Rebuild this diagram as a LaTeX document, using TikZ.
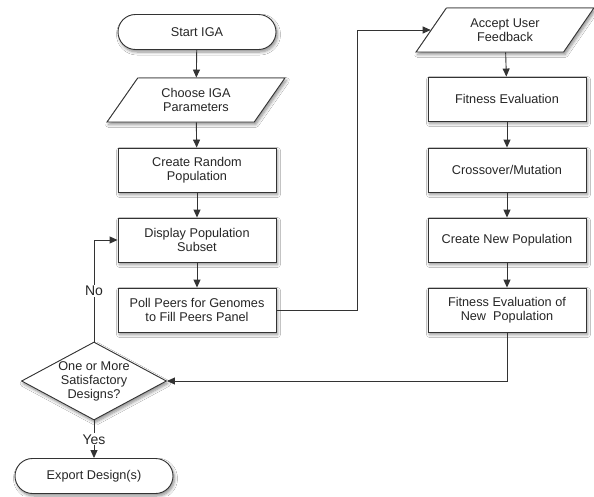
\documentclass[tikz,border=0pt]{standalone}
\usepackage{fontspec}
\setmainfont{Liberation Sans}
\usetikzlibrary{shapes.geometric,shapes.misc,shadows.blur,arrows.meta}
\begin{document}
\begin{tikzpicture}[x=1pt,y=-1pt,
  linecol/.style={draw=black!80},
  base/.style={linecol, line width=0.9pt, fill=white, text=black!85,
    font=\fontsize{12.7}{14}\selectfont, align=center, inner sep=0pt,
    blur shadow={shadow xshift=1.5pt, shadow yshift=-2.5pt, shadow blur radius=3pt,
      shadow blur steps=6, shadow opacity=45}},
  procbox/.style={base, rectangle, minimum width=158pt, minimum height=44pt},
  termbox/.style={base, rounded rectangle, minimum width=158pt, minimum height=35pt},
  iobox/.style={base, trapezium, trapezium left angle=52, trapezium right angle=128,
    trapezium stretches=true, minimum width=178pt, minimum height=44pt},
  decbox/.style={base, diamond, minimum width=145pt, minimum height=78pt},
  arr/.style={linecol, line width=0.9pt, -{Triangle[length=8pt,width=7pt]}},
  lbl/.style={fill=white, text=black!85, font=\fontsize{14}{16}\selectfont, inner sep=1pt}
]
\useasboundingbox[fill=white] (0,0) rectangle (594,496);

% left column
\node[termbox] (start) at (197,32) {Start IGA};
\node[iobox] (choose) at (196,100) {Choose IGA\\Parameters};
\node[procbox] (rand) at (197,170) {Create Random\\Population};
\node[procbox] (disp) at (197,240) {Display Population\\Subset};
\node[procbox] (poll) at (197,310) {Poll Peers for Genomes\\to Fill Peers Panel};
\node[decbox, label={[text=black!85, font=\fontsize{12.7}{14}\selectfont, align=center]center:One or More\\Satisfactory\\Designs?}] (dec) at (94,381) {};
\node[termbox] (export) at (94,476) {Export Design(s)};

% right column
\node[iobox] (accept) at (505,30) {Accept User\\Feedback};
\node[procbox] (fit) at (507,99) {Fitness Evaluation};
\node[procbox] (cross) at (507,170) {Crossover/Mutation};
\node[procbox] (newpop) at (507,240) {Create New Population};
\node[procbox] (fitnew) at (507,310) {Fitness Evaluation of\\New\ \ Population};

\coordinate (j1) at (357,310);

% connectors
\draw[arr] (start) -- (choose);
\draw[arr] (choose) -- (rand);
\draw[arr] (rand) -- (disp);
\draw[arr] (disp) -- (poll);
\draw[arr] (poll.east) -- (j1) |- (accept.west);
\draw[arr] (accept) -- (fit);
\draw[arr] (fit) -- (cross);
\draw[arr] (cross) -- (newpop);
\draw[arr] (newpop) -- (fitnew);
\draw[arr] (fitnew.south) |- (dec.east);
\draw[arr] (dec.north) |- node[lbl, pos=0.25] {No} (disp.west);
\draw[arr] (dec.south) -- node[lbl] {Yes} (export.north);
\end{tikzpicture}
\end{document}
